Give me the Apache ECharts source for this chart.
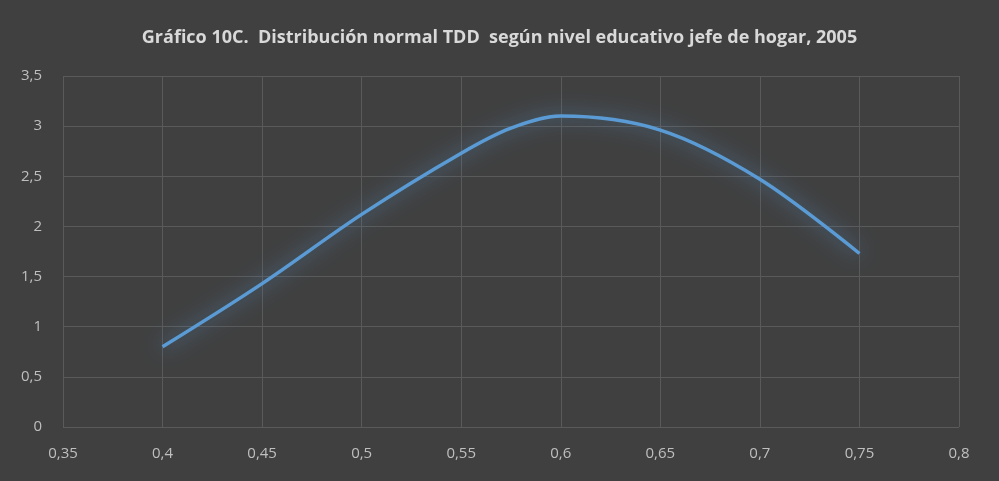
<!DOCTYPE html>
<html>
<head>
<meta charset="utf-8">
<script src="https://cdn.jsdelivr.net/npm/echarts@6/dist/echarts.min.js"></script>
<style>
  html, body { margin: 0; padding: 0; background: #404040; }
  #chart { width: 999px; height: 481px; }
</style>
</head>
<body>
<div id="chart"></div>
<script>
// valores
var tdd = [0.40, 0.45, 0.50, 0.55, 0.575, 0.60, 0.65, 0.70, 0.75];
var densidad = [0.80, 1.43, 2.12, 2.73, 2.98, 3.10, 2.96, 2.47, 1.73];
var titulo = 'Gráfico 10C.  Distribución normal TDD  según nivel educativo jefe de hogar, 2005';

var puntos = tdd.map(function (x, i) { return [x, densidad[i]]; });

function coma(v) {
  return String(+v.toFixed(2)).replace('.', ',');
}

var chart = echarts.init(document.getElementById('chart'));
chart.setOption({
  backgroundColor: '#404040',
  animation: false,
  title: {
    text: titulo,
    left: 'center',
    top: 24,
    textStyle: {
      color: '#d9d9d9',
      fontSize: 18,
      fontWeight: 'bold',
      fontFamily: 'Open Sans'
    }
  },
  grid: { left: 63, right: 40, top: 76, bottom: 54 },
  xAxis: {
    type: 'value',
    min: 0.35,
    max: 0.8,
    interval: 0.05,
    axisLine: { show: false },
    axisTick: { show: false },
    splitLine: { lineStyle: { color: '#5a5a5a', width: 1 } },
    axisLabel: {
      color: '#bfbfbf',
      fontSize: 15,
      margin: 19,
      fontFamily: 'Open Sans',
      formatter: coma
    }
  },
  yAxis: {
    type: 'value',
    min: 0,
    max: 3.5,
    interval: 0.5,
    axisLine: { show: false },
    axisTick: { show: false },
    splitLine: { lineStyle: { color: '#5a5a5a', width: 1 } },
    axisLabel: {
      color: '#bfbfbf',
      fontSize: 15,
      margin: 21,
      fontFamily: 'Open Sans',
      formatter: coma
    }
  },
  series: [{
    type: 'line',
    data: puntos,
    smooth: 0.33,
    showSymbol: false,
    lineStyle: {
      color: '#5b9bd5',
      width: 3.5,
      shadowColor: 'rgba(91,155,213,0.9)',
      shadowBlur: 20
    }
  }]
});
</script>
</body>
</html>
